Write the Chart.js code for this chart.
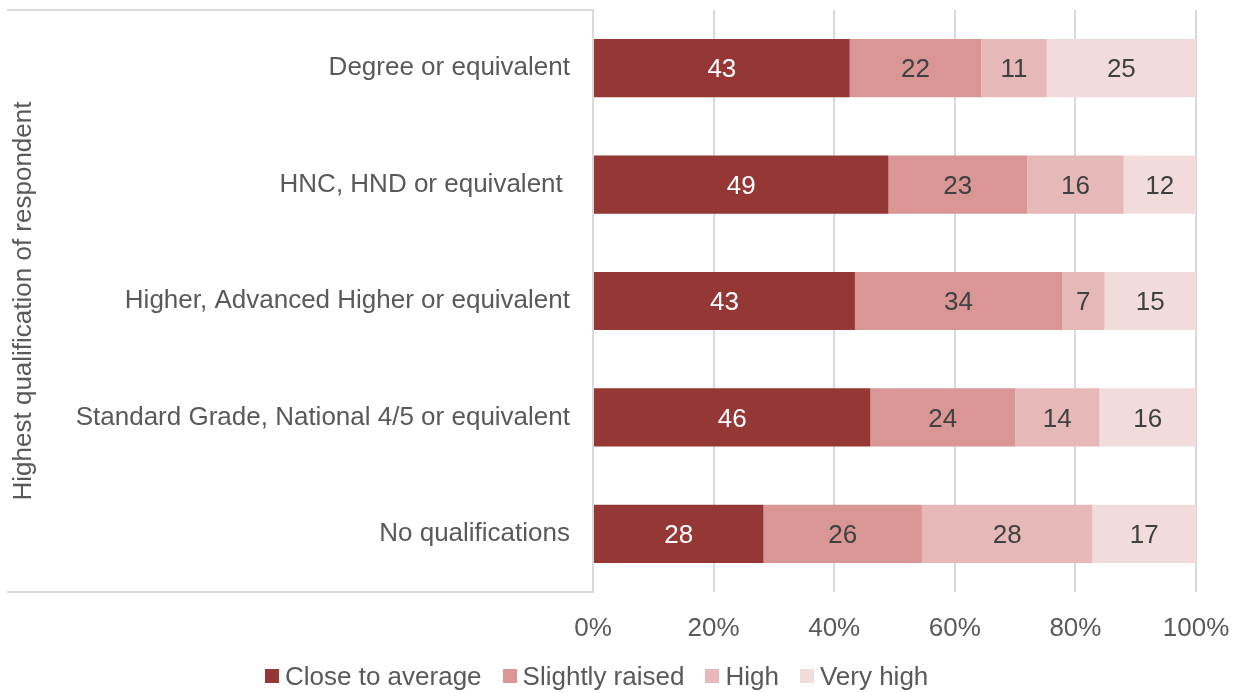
<!DOCTYPE html>
<html>
<head>
<meta charset="utf-8">
<script src="https://cdn.jsdelivr.net/npm/chart.js@4.4.1/dist/chart.umd.min.js"></script>
<style>
  html, body { margin: 0; padding: 0; background: #ffffff; }
  #wrap { position: relative; width: 1241px; height: 693px; overflow: hidden; }
  #c { display: block; }
  #legend {
    position: absolute; left: 265px; top: 661px; height: 30px;
    display: flex; align-items: center;
    font-family: "Liberation Sans", Arial, sans-serif; font-size: 26px; color: #595959;
    white-space: nowrap;
  }
  #legend .item { display: flex; align-items: center; margin-right: 21px; }
  #legend .box { width: 14px; height: 14px; margin-right: 6px; }
</style>
</head>
<body>
<div id="wrap">
  <canvas id="c" width="1241" height="693"></canvas>
  <div id="legend"></div>
</div>
<script>
// ---- Data ----
const categories = [
  "Degree or equivalent",
  "HNC, HND or equivalent ",
  "Higher, Advanced Higher or equivalent",
  "Standard Grade, National 4/5 or equivalent",
  "No qualifications"
];
const seriesNames = ["Close to average", "Slightly raised", "High", "Very high"];
const closeToAverage = [43, 49, 43, 46, 28];
const slightlyRaised = [22, 23, 34, 24, 26];
const high           = [11, 16, 7, 14, 28];
const veryHigh       = [25, 12, 15, 16, 17];
const xTickLabels = ["0%", "20%", "40%", "60%", "80%", "100%"];
const yAxisTitle = "Highest qualification of respondent";

// ---- Styling ----
const seriesColors = ["#953735", "#D99694", "#E6B9B8", "#F2DCDB"];
const labelColors = ["#FFFFFF", "#404040", "#404040", "#404040"];
const FONT = "'Liberation Sans', Arial, sans-serif";
const TEXT = "#595959";
const GRID = "#D9D9D9";

const seriesValues = [closeToAverage, slightlyRaised, high, veryHigh];
// 100% stacked: each row is shown as its share of the row total
const rowTotals = categories.map((_, i) => seriesValues.reduce((s, arr) => s + arr[i], 0));

const datasets = seriesValues.map((vals, k) => ({
  label: seriesNames[k],
  data: vals.map((v, i) => v / rowTotals[i] * 100),
  rawValues: vals,
  backgroundColor: seriesColors[k],
  borderWidth: 0,
  barPercentage: 0.5,
  categoryPercentage: 1.0
}));

const valueLabels = {
  id: 'valueLabels',
  afterDatasetsDraw(chart) {
    const ctx = chart.ctx;
    ctx.save();
    ctx.font = "26px " + FONT;
    ctx.textAlign = 'center';
    ctx.textBaseline = 'middle';
    chart.data.datasets.forEach((ds, k) => {
      const meta = chart.getDatasetMeta(k);
      meta.data.forEach((bar, i) => {
        const p = bar.getProps(['x', 'y', 'base'], true);
        ctx.fillStyle = labelColors[k];
        ctx.fillText(String(ds.rawValues[i]), (p.x + p.base) / 2, p.y + 2);
      });
    });
    ctx.restore();
  }
};

const frameLines = {
  id: 'frameLines',
  beforeDatasetsDraw(chart) {
    const ctx = chart.ctx;
    const a = chart.chartArea;
    ctx.save();
    ctx.strokeStyle = GRID;
    ctx.lineWidth = 2;
    ctx.beginPath();
    ctx.moveTo(7, Math.round(a.top));
    ctx.lineTo(a.left, Math.round(a.top));
    ctx.moveTo(7, Math.round(a.bottom));
    ctx.lineTo(a.left + 1, Math.round(a.bottom));
    ctx.stroke();
    ctx.restore();
  }
};

new Chart(document.getElementById('c'), {
  type: 'bar',
  data: { labels: categories, datasets },
  plugins: [frameLines, valueLabels],
  options: {
    indexAxis: 'y',
    responsive: false,
    animation: false,
    devicePixelRatio: 1,
    layout: { padding: { top: 10, right: 45, bottom: 41, left: 0 } },
    plugins: {
      legend: { display: false },
      tooltip: { enabled: false }
    },
    scales: {
      x: {
        stacked: true,
        min: 0, max: 100,
        afterFit(scale) {
          scale.height = 60;
          scale.paddingLeft = 0; scale.paddingRight = 0;
        },
        afterBuildTicks(scale) {
          scale.ticks = xTickLabels.map((_, i) => ({ value: i * 20 }));
        },
        ticks: {
          callback: (v, i) => xTickLabels[i],
          font: { family: FONT, size: 26 },
          color: TEXT,
          padding: 21,
          maxRotation: 0
        },
        grid: { color: GRID, lineWidth: 2, drawTicks: false },
        border: { display: false }
      },
      y: {
        stacked: true,
        afterFit(scale) {
          scale.width = 593;
          scale.paddingTop = 0; scale.paddingBottom = 0;
        },
        ticks: {
          font: { family: FONT, size: 26 },
          color: TEXT,
          padding: 23
        },
        grid: { display: false, drawTicks: false },
        border: { display: true, color: GRID, width: 2 },
        title: {
          display: true,
          text: yAxisTitle,
          font: { family: FONT, size: 26 },
          color: TEXT,
          padding: { top: 8, bottom: 0 }
        }
      }
    }
  }
});

// Legend (HTML, real text)
const legendEl = document.getElementById('legend');
seriesNames.forEach((name, k) => {
  const item = document.createElement('div');
  item.className = 'item';
  const box = document.createElement('div');
  box.className = 'box';
  box.style.background = seriesColors[k];
  const label = document.createElement('span');
  label.textContent = name;
  item.appendChild(box);
  item.appendChild(label);
  legendEl.appendChild(item);
});
</script>
</body>
</html>
